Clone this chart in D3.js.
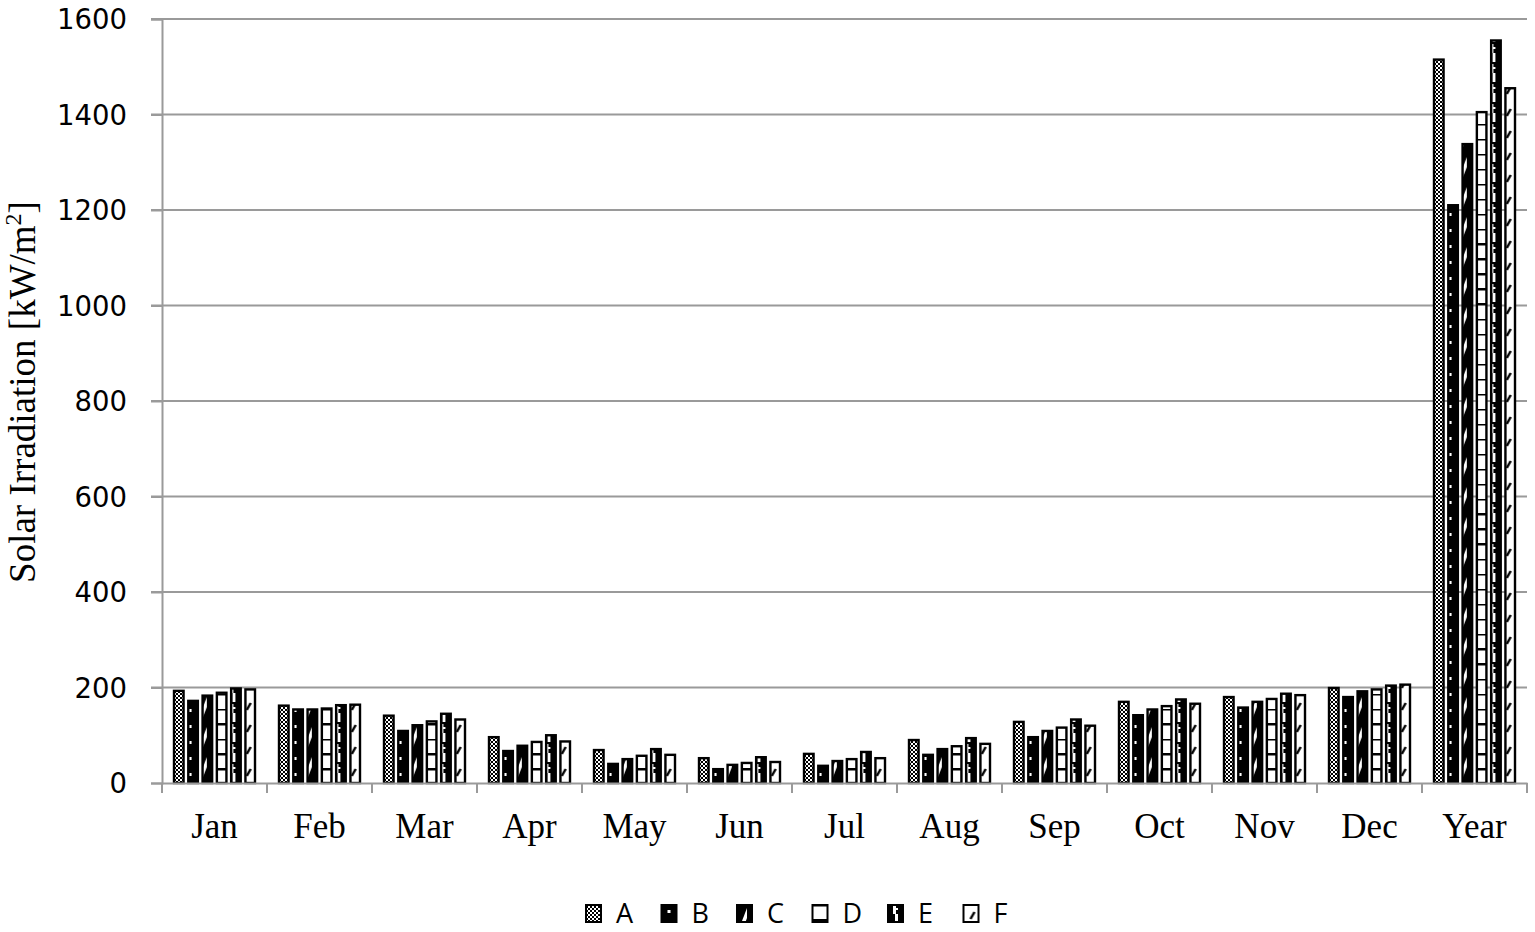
<!DOCTYPE html>
<html><head><meta charset="utf-8">
<script src="https://cdn.jsdelivr.net/npm/d3@7"></script>
<style>body{margin:0;background:#fff}svg{display:block}</style>
</head><body>
<svg id="c" width="1535" height="932"></svg>
<script>
const categories = ["Jan","Feb","Mar","Apr","May","Jun","Jul","Aug","Sep","Oct","Nov","Dec","Year"];
const seriesNames = ["A","B","C","D","E","F"];
const valuesA = [193,162,141,96,69,52,61,90,128,170,180,199,1515];
const valuesB = [172,154,109,67,40,29,36,59,96,142,158,180,1210];
const valuesC = [183,154,121,78,50,38,46,71,109,154,170,192,1338];
const valuesD = [189,156,129,86,57,42,50,77,116,161,176,196,1405];
const valuesE = [198,163,145,100,71,54,65,94,133,175,187,204,1555];
const valuesF = [196,164,133,87,59,44,52,82,120,166,184,206,1455];
const yTicks = [0,200,400,600,800,1000,1200,1400,1600];
const allValues = [valuesA,valuesB,valuesC,valuesD,valuesE,valuesF];

const svg = d3.select("#c");
const L = 162, R = 1527, T = 19, B = 783;
const grid = "#9a9a9a";

const x0 = d3.scaleBand().domain(categories).range([L, R]).padding(0);
const x1 = d3.scaleBand().domain(seriesNames).range([0, x0.bandwidth()]).paddingInner(0.33).paddingOuter(0.84);
const y = d3.scaleLinear().domain([0,1600]).range([B, T]);

const defs = svg.append("defs");
const PW = 15;
function makePattern(id, kind, cx, cy){
  const h = {A:4,B:16,C:30,D:15,E:20,F:22}[kind];
  const w = kind==="A" ? 4 : PW;
  const p = defs.append("pattern").attr("id", id).attr("patternUnits","userSpaceOnUse")
    .attr("width", w).attr("height", h)
    .attr("x", kind==="A" ? 0 : cx - PW/2).attr("y", cy);
  if (kind==="A"){
    p.append("rect").attr("width",4).attr("height",4).attr("fill","#fff");
    p.append("rect").attr("width",2).attr("height",2).attr("fill","#000");
    p.append("rect").attr("x",2).attr("y",2).attr("width",2).attr("height",2).attr("fill","#000");
  } else if (kind==="B"){
    p.append("rect").attr("width",w).attr("height",h).attr("fill","#000");
    p.append("rect").attr("x",6).attr("y",6).attr("width",3).attr("height",3).attr("fill","#fff");
  } else if (kind==="C"){
    p.append("rect").attr("width",w).attr("height",h).attr("fill","#000");
    p.append("polygon").attr("points","5,27 5,17 10,4 10,14").attr("fill","#fff");
  } else if (kind==="D"){
    p.append("rect").attr("width",w).attr("height",h).attr("fill","#fff");
    p.append("rect").attr("width",w).attr("height",2.5).attr("fill","#000");
  } else if (kind==="E"){
    p.append("rect").attr("width",w).attr("height",h).attr("fill","#000");
    p.append("rect").attr("x",5).attr("y",1).attr("width",3).attr("height",9).attr("fill","#fff");
    p.append("rect").attr("x",7).attr("y",10).attr("width",3).attr("height",9).attr("fill","#fff");
    p.append("rect").attr("x",5).attr("y",4).attr("width",5).attr("height",2).attr("fill","#fff");
  } else if (kind==="F"){
    p.append("rect").attr("width",w).attr("height",h).attr("fill","#fff");
    p.append("line").attr("x1",7).attr("y1",15).attr("x2",11).attr("y2",8).attr("stroke","#000").attr("stroke-width",2.5);
  }
}
seriesNames.forEach(s => {
  const cx = x0(categories[0]) + x1(s) + x1.bandwidth()/2;
  makePattern("pat"+s, s, cx, B);
});

// gridlines
svg.append("g").selectAll("line").data(yTicks.filter(d=>d>0)).join("line")
  .attr("x1", L-11).attr("x2", R).attr("y1", d=>y(d)).attr("y2", d=>y(d))
  .attr("stroke", grid).attr("stroke-width", 2);

// y axis
const yAxis = svg.append("g").attr("transform",`translate(${L},0)`)
  .call(d3.axisLeft(y).tickValues(yTicks).tickSize(11).tickPadding(24).tickFormat(d3.format("d")));
yAxis.select(".domain").attr("stroke", grid).attr("stroke-width", 2);
yAxis.selectAll(".tick line").attr("stroke", grid).attr("stroke-width", 2);
yAxis.selectAll(".tick text").attr("font-family","'DejaVu Sans', sans-serif").attr("font-size",27.5).attr("fill","#000").attr("dy","0.36em");

// bars
const data = categories.map((c,i) => ({cat:c, vals: seriesNames.map((s,j)=>({s, v: allValues[j][i]}))}));
svg.append("g").selectAll("g").data(data).join("g")
  .attr("transform", d=>`translate(${x0(d.cat)},0)`)
  .selectAll("rect").data(d=>d.vals).join("rect")
  .attr("x", d=>x1(d.s)).attr("width", x1.bandwidth())
  .attr("y", d=>y(d.v)).attr("height", d=>B - y(d.v))
  .attr("fill", d=>`url(#pat${d.s})`).attr("stroke","#000").attr("stroke-width",2.4);

// x axis
const xAxis = svg.append("g").attr("transform",`translate(0,${B})`)
  .call(d3.axisBottom(x0).tickSize(0).tickPadding(30));
xAxis.select(".domain").attr("stroke", grid).attr("stroke-width", 2);
xAxis.selectAll(".tick text").attr("font-family","'Liberation Serif', 'Times New Roman', serif").attr("font-size",35).attr("fill","#000");
svg.append("g").selectAll("line").data(d3.range(categories.length+1)).join("line")
  .attr("x1", i=>L + i*x0.step()).attr("x2", i=>L + i*x0.step())
  .attr("y1", B).attr("y2", B+10).attr("stroke", grid).attr("stroke-width", 2);

// y title
const yt = svg.append("text").attr("transform","translate(35,392) rotate(-90)")
  .attr("text-anchor","middle").attr("font-family","'Liberation Serif', 'Times New Roman', serif")
  .attr("font-size",37).attr("fill","#000");
yt.append("tspan").text("Solar Irradiation [kW/m");
yt.append("tspan").attr("dy",-14).attr("font-size",24).text("2");
yt.append("tspan").attr("dy",14).text("]");

// legend
const lg = svg.append("g");
seriesNames.forEach((s,i) => {
  const lx = 585 + i*75.5, ly = 904;
  makePattern("leg"+s, s, lx+8.5, ly);
  lg.append("rect").attr("x", lx+1).attr("y", ly+1).attr("width",15).attr("height",17)
    .attr("fill",`url(#leg${s})`).attr("stroke","#000").attr("stroke-width",2);
  lg.append("text").attr("x", lx+31).attr("y", ly+19).text(s)
    .attr("font-family","'Open Sans', sans-serif").attr("font-size",27).attr("fill","#000");
});
</script>
</body></html>
